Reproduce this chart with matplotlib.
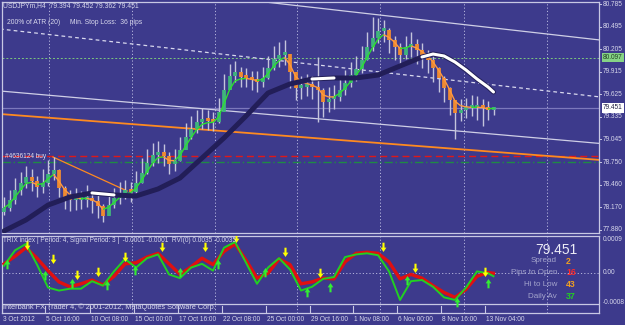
import matplotlib
matplotlib.use('Agg')
import matplotlib.pyplot as plt
import matplotlib.transforms as mtransforms
from matplotlib.path import Path
from matplotlib.collections import LineCollection
import numpy as np
import pandas as pd

plt.rcParams['font.family'] = ['Liberation Sans', 'DejaVu Sans']

# ---------------- data ----------------
close = [78.163, 78.266, 78.394, 78.484, 78.561, 78.510, 78.433, 78.484, 78.600, 78.651,
         78.420, 78.292, 78.266, 78.266, 78.266, 78.292, 78.253, 78.189, 78.060, 78.201,
         78.292, 78.356, 78.394, 78.368, 78.484, 78.613, 78.741, 78.844, 78.883, 78.831,
         78.728, 78.767, 78.908, 79.075, 79.178, 79.268, 79.307, 79.281, 79.268, 79.397,
         79.680, 79.860, 79.911, 79.847, 79.834, 79.808, 79.782, 79.834, 79.962, 80.078,
         80.129, 80.142, 79.911, 79.705, 79.718, 79.744, 79.718, 79.680, 79.525, 79.564,
         79.590, 79.680, 79.770, 79.872, 79.950, 80.065, 80.232, 80.348, 80.438, 80.451,
         80.322, 80.232, 80.129, 80.232, 80.271, 80.194, 80.129, 80.065, 79.962, 79.834,
         79.705, 79.551, 79.384, 79.422, 79.448, 79.448, 79.461, 79.448, 79.422, 79.451]
high = [78.30, 78.40, 78.55, 78.62, 78.70, 78.66, 78.58, 78.66, 78.78, 78.82,
        78.66, 78.45, 78.40, 78.42, 78.38, 78.46, 78.38, 78.33, 78.22, 78.33,
        78.42, 78.50, 78.52, 78.50, 78.64, 78.80, 78.92, 79.00, 79.02, 78.98,
        78.88, 78.92, 79.08, 79.25, 79.35, 79.42, 79.45, 79.42, 79.40, 79.58,
        79.88, 80.02, 80.05, 79.98, 79.96, 79.93, 79.92, 79.98, 80.12, 80.25,
        80.30, 80.32, 80.10, 79.90, 79.86, 79.88, 79.86, 80.10, 79.70, 79.72,
        79.74, 79.84, 79.94, 80.04, 80.12, 80.24, 80.42, 80.62, 80.60, 80.58,
        80.48, 80.38, 80.28, 80.38, 80.42, 80.34, 80.28, 80.20, 80.12, 79.98,
        79.86, 79.72, 79.55, 79.56, 79.58, 79.62, 79.60, 79.56, 79.54, 79.452]
low = [78.07, 78.13, 78.22, 78.33, 78.42, 78.38, 78.30, 78.36, 78.45, 78.52,
       78.30, 78.15, 78.12, 78.14, 78.15, 78.18, 78.10, 78.03, 77.98, 78.08,
       78.16, 78.22, 78.28, 78.24, 78.35, 78.48, 78.60, 78.70, 78.74, 78.70,
       78.60, 78.64, 78.77, 78.93, 79.05, 79.13, 79.18, 79.16, 79.15, 79.26,
       79.50, 79.70, 79.78, 79.72, 79.72, 79.68, 79.66, 79.72, 79.82, 79.94,
       79.98, 80.00, 79.70, 79.55, 79.57, 79.60, 79.56, 79.27, 79.33, 79.40,
       79.44, 79.54, 79.62, 79.72, 79.80, 79.90, 80.06, 80.18, 80.28, 80.30,
       80.16, 80.06, 79.98, 80.08, 80.10, 80.02, 79.96, 79.90, 79.78, 79.66,
       79.52, 79.36, 79.05, 79.28, 79.32, 79.34, 79.30, 79.22, 79.30, 79.362]

ma_idx = [0, 4, 8, 12, 16, 20, 24, 28, 32, 36, 40, 44, 48, 52, 56, 60, 64, 68, 72, 76,
          78, 80, 82, 84, 86, 88, 89]
ma_val = [77.867, 78.009, 78.200, 78.304, 78.356, 78.330, 78.317, 78.407, 78.548, 78.805,
          79.063, 79.345, 79.641, 79.757, 79.821, 79.834, 79.834, 79.872, 79.988, 80.104,
          80.142, 80.117, 80.039, 79.937, 79.821, 79.718, 79.654]

trix_idx = list(range(0, 90, 2)) + [89]
trix_red = [0.00024, 0.00044, 0.00067, 0.00039, 0.00006, -0.00024, -0.00037, -0.00029, -0.00019, -0.00032,
            -0.00009, 0.00024, 0.00027, 0.00042, 0.00052, 0.00024, -0.00004, 0.00016, 0.00039, 0.00022,
            0.00057, 0.00077, 0.00034, -0.00014, -0.00001, 0.00037, 0.00022, -0.00029, -0.00024, -0.00014,
            -0.00016, 0.00029, 0.00052, 0.00055, 0.00052, 0.00029, -0.00016, -0.00004, -0.00014, -0.00034,
            -0.00052, -0.00065, -0.00044, -0.00009, 0.00001, -0.00001]
trix_green = [0.00019, 0.00060, 0.00077, 0.00022, -0.00039, -0.00047, -0.00042, -0.00042, -0.00022, -0.00034,
              0.00004, 0.00037, 0.00014, 0.00039, 0.00049, -0.00004, -0.00014, 0.00014, 0.00024, 0.00006,
              0.00067, 0.00082, 0.00027, -0.00029, 0.00014, 0.00039, 0.00009, -0.00047, -0.00037, -0.00016,
              -0.00011, 0.00042, 0.00049, 0.00052, 0.00047, 0.00004, -0.00072, -0.00022, -0.00019, -0.00037,
              -0.00065, -0.00072, -0.00039, 0.00004, -0.00001, -0.00009]

down_idx = [4.2, 8.9, 13.3, 17.1, 22.0, 28.7, 36.5, 42.2, 51.1, 57.5, 68.9, 74.7, 87.5]
down_val = [0.00072, 0.00034, -0.00009, 0.00001, 0.00039, 0.00067, 0.00065, 0.00090, 0.00052,
            -0.00004, 0.00067, 0.00009, 0.00001]
up_idx = [0.5, 7.5, 12.4, 18.7, 23.8, 32.0, 38.9, 47.5, 55.1, 59.3, 73.3, 82.4, 88.0]
up_val = [0.00027, -0.00004, -0.00024, -0.00029, 0.00009, 0.00004, 0.00027, 0.00004, -0.00049,
          -0.00034, -0.00016, -0.00075, -0.00024]

# trend / object lines: (start index, start price, end index, end price)
upper_channel = (47.45, 80.811, 108.4, 80.322)
dashed_channel = (-0.73, 80.464, 108.4, 79.590)
lower_channel = (-0.73, 79.667, 108.4, 78.992)
orange_trend = (-0.73, 79.371, 108.4, 78.780)
orange_short = (8.9, 78.818, 22.4, 78.381)
order_level = 78.831
sl_level = 78.754
ask_level = 80.097
bid_level = 79.451

price_ticks = [80.785, 80.495, 80.205, 79.915, 79.625, 79.335, 79.045, 78.750, 78.460, 78.170, 77.880]
time_labels = ['3 Oct 2012', '5 Oct 16:00', '10 Oct 08:00', '15 Oct 00:00', '17 Oct 16:00',
               '22 Oct 08:00', '25 Oct 00:00', '29 Oct 16:00', '1 Nov 08:00', '6 Nov 00:00',
               '8 Nov 16:00', '13 Nov 04:00']
time_pos = [-0.36, 7.45, 15.64, 23.64, 31.64, 39.64, 47.64, 55.64, 63.45, 71.45, 79.45, 87.45]
grid_pos = [8.2, 23.3, 38.4, 53.3, 68.4, 83.6, 98.7]

info_labels = ['Spread', 'Pips to Open', 'Hi to Low', 'Daily Av']
info_values = ['2', '16', '43', '37']
info_colors = ['#f0a020', '#ff2a2a', '#f0a020', '#22d022']

# ---------------- styling ----------------
W, H = 625, 325
BG = '#3d3a8c'
FRAME = '#c8c8e4'
TXT = '#d8d8ec'
GRID = '#b4b4dc'


def fx(px):
    return px / W


def fy(py):
    return 1 - py / H


fig = plt.figure(figsize=(6.25, 3.25), dpi=100, facecolor=BG)
ax = fig.add_axes([fx(2), fy(233), fx(599) - fx(2), fy(2) - fy(233)])
ax2 = fig.add_axes([fx(2), fy(313), fx(599) - fx(2), fy(236) - fy(313)])

XL = (-0.364, 108.18)
for a in (ax, ax2):
    a.set_facecolor(BG)
    a.set_xlim(*XL)
    a.set_xticks([])
    a.set_yticks([])
    for s in a.spines.values():
        s.set_color(FRAME)
        s.set_linewidth(0.9)

ax.set_ylim(77.841, 80.811)
ax2.set_ylim(-0.001066, 0.00098)

# grid
for g in grid_pos:
    ax.axvline(g, color=GRID, ls=(0, (1.2, 2.2)), lw=0.7, zorder=1)
    ax2.axvline(g, color=GRID, ls=(0, (1.2, 2.2)), lw=0.7, zorder=1)

# horizontal levels
ax.axhline(bid_level, color='#7c78bc', lw=0.9, zorder=1)
ax.axhline(ask_level, color='#7cc87c', ls=(0, (2, 2)), lw=0.7, zorder=1)
ax.axhline(order_level, color='#e01818', ls=(0, (5, 3)), lw=1.0, zorder=2)
ax.axhline(sl_level, color='#1f8a45', ls=(0, (6, 2, 1, 2)), lw=1.0, zorder=2)

# object lines
def seg(a, s, **kw):
    a.plot([s[0], s[2]], [s[1], s[3]], **kw)

seg(ax, upper_channel, color='#cfcfe6', lw=0.9, zorder=2)
seg(ax, dashed_channel, color='#d8d8ee', lw=0.9, ls=(0, (3, 2.5)), zorder=2)
seg(ax, lower_channel, color='#cfcfe6', lw=0.9, zorder=2)
seg(ax, orange_trend, color='#ff8a20', lw=1.3, zorder=2)
seg(ax, orange_short, color='#ff8a20', lw=0.9, zorder=2)

# price bars
x = np.arange(len(close))
c = np.array(close)
o = np.r_[c[0] - 0.05, c[:-1]]
ax.vlines(x, low, high, colors='#c4c4dc', lw=1.0, zorder=3)
up = c >= o
body_col = np.where(up, '#3fb47c', '#f08a30')
bot = np.minimum(o, c)
top = np.maximum(o, c)
top = np.maximum(top, bot + 0.04)
ax.vlines(x, bot, top, colors=body_col, lw=2.7, zorder=4)

# fast moving average (from closes)
ema = pd.Series(close).ewm(span=3, adjust=False).mean().values
pts = np.column_stack([x, ema])
segs = np.stack([pts[:-1], pts[1:]], axis=1)
ecol = ['#2ee02e' if ema[i + 1] >= ema[i] else '#ff9a40' for i in range(len(ema) - 1)]
ax.add_collection(LineCollection(segs, colors=ecol, linewidths=1.0, zorder=5))

# slow moving average
mi = np.array(ma_idx)
mv = np.array(ma_val)
ax.plot(mi, mv, color='#221e58', lw=3.6, solid_capstyle='round', zorder=6)
for lo_i, hi_i in [(16, 20), (56, 60), (76, 89)]:
    m = (mi >= lo_i) & (mi <= hi_i)
    ax.plot(mi[m], mv[m], color='white', lw=2.2, solid_capstyle='round', zorder=7)

# ---------------- lower panel ----------------
ax2.axhline(0, color=GRID, ls=(0, (1.2, 2.2)), lw=0.7, zorder=1)
ax2.axhline(-0.000825, color=FRAME, lw=0.9, zorder=1)
ax2.plot(trix_idx, trix_red, color='#e01010', lw=2.4, zorder=3, solid_joinstyle='round')
ax2.plot(trix_idx, trix_green, color='#22d022', lw=1.4, zorder=4, solid_joinstyle='round')

arrow_down = Path([(-0.18, 1.0), (0.18, 1.0), (0.18, 0.15), (0.5, 0.15), (0.0, -0.6),
                   (-0.5, 0.15), (-0.18, 0.15), (-0.18, 1.0)],
                  [Path.MOVETO] + [Path.LINETO] * 6 + [Path.CLOSEPOLY])
arrow_up = Path([(px, -py) for px, py in arrow_down.vertices], arrow_down.codes)
ax2.scatter(down_idx, down_val, marker=arrow_down, s=70, color='#ffff00', lw=0, zorder=6)
ax2.scatter(up_idx, up_val, marker=arrow_up, s=70, color='#33ee33', lw=0, zorder=6)

# ---------------- texts ----------------
FS = 4.7
blend = mtransforms.blended_transform_factory(ax.transAxes, ax.transData)
xr = (603 - 2) / 597
for p in price_ticks:
    ax.text(xr, p, f'{p:.3f}', transform=blend, fontsize=FS, color=TXT, va='center',
            ha='left', clip_on=False)
    ax.plot([1.0, 1.004], [p, p], transform=blend, color=FRAME, lw=0.7, clip_on=False)
ax.text(xr, ask_level, f'{ask_level:.3f}', transform=blend, fontsize=FS, color='#204020',
        va='center', ha='left', clip_on=False,
        bbox=dict(boxstyle='square,pad=0.2', fc='#86d486', ec='none'))
ax.text(xr, bid_level, f'{bid_level:.3f}', transform=blend, fontsize=FS, color='#202040',
        va='center', ha='left', clip_on=False,
        bbox=dict(boxstyle='square,pad=0.2', fc='white', ec='none'))

blend2 = mtransforms.blended_transform_factory(ax2.transAxes, ax2.transData)
for v, s in [(0.0009, '0.0009'), (0.0, '0.00'), (-0.0008, '-0.0008')]:
    ax2.text(xr, v, s, transform=blend2, fontsize=FS, color=TXT, va='center', ha='left',
             clip_on=False)

# time axis
blendx = mtransforms.blended_transform_factory(ax2.transData, ax2.transAxes)
for p, s in zip(time_pos, time_labels):
    ax2.text(p + 0.25, -0.04, s, transform=blendx, fontsize=FS, color=TXT, va='top',
             ha='left', clip_on=False)
    ax2.plot([p, p], [0.0, 0.09], transform=blendx, color=FRAME, lw=0.8)

fig.text(fx(3), fy(6), 'USDJPYm,H4  79.394 79.452 79.362 79.451', fontsize=FS + 0.2,
         color=TXT, va='center', ha='left')
fig.text(fx(7), fy(23), '200% of ATR (20)', fontsize=FS + 0.2, color=TXT, va='center', ha='left')
fig.text(fx(70), fy(23), 'Min. Stop Loss:  36 pips', fontsize=FS + 0.2, color=TXT,
         va='center', ha='left')
fig.text(fx(5), fy(156), '#4636124 buy', fontsize=FS, color='#e0e0f0', va='center', ha='left')

fig.text(fx(3), fy(241), 'TRIX index | Period: 4, Signal Period: 3 |  -0.0001 -0.0001  RVI(0) 0.0035 -0.0035',
         fontsize=FS, color=TXT, va='center', ha='left')
fig.text(fx(3), fy(307.5), 'Interbank FX Trader 4, \u00a9 2001-2012, MetaQuotes Software Corp.',
         fontsize=FS + 0.6, color=TXT, va='center', ha='left')

fig.text(fx(578), fy(250), '79.451', fontsize=10, color='#ececf6', va='center', ha='right')
for k, (lab, val, col) in enumerate(zip(info_labels, info_values, info_colors)):
    yy = 261 + k * 11.7
    fig.text(fx(557), fy(yy), lab, fontsize=5.8, color='#a4a4cc', va='center', ha='right')
    fig.text(fx(566), fy(yy), val, fontsize=6.3, color=col, va='center', ha='left',
             fontweight='bold')

fig.savefig('out.png', dpi=100, facecolor=BG)
